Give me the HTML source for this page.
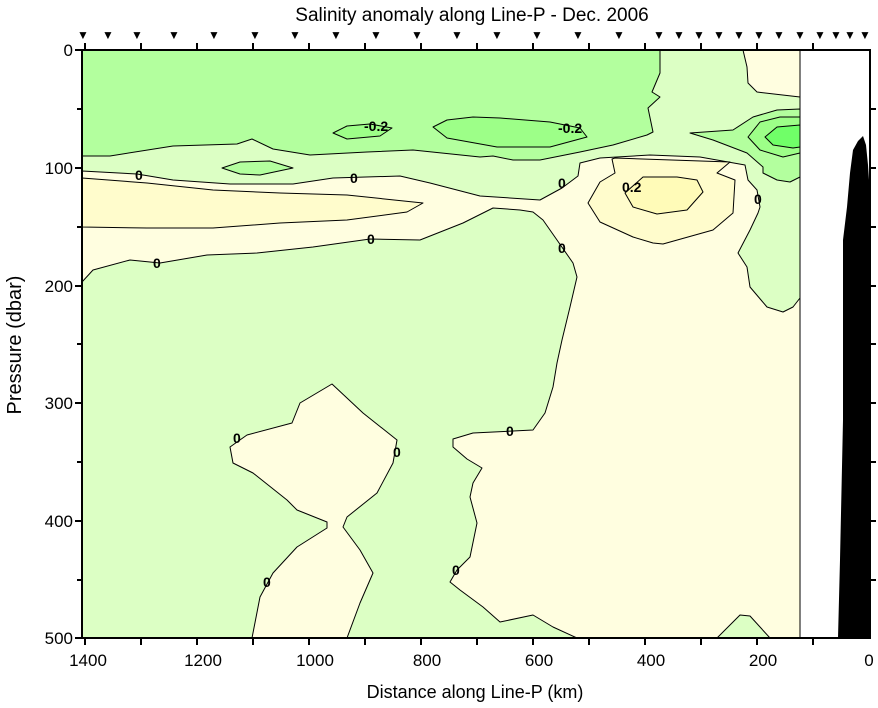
<!DOCTYPE html>
<html><head><meta charset="utf-8"><style>
html,body{margin:0;padding:0;background:#fff;}
svg{display:block;font-family:"Liberation Sans",sans-serif;}
</style></head><body>
<svg width="878" height="708" viewBox="0 0 878 708" xmlns="http://www.w3.org/2000/svg">
<rect width="878" height="708" fill="#fff"/>
<g stroke="#000" stroke-width="1" stroke-linejoin="round">
<rect x="82" y="50" width="718" height="588" fill="#dcffc4" stroke="none"/>
<polygon fill="#b3ff9e" points="82,50 660,50 660,73 652,92 660,97 648,108 653,132 647,135 613,145 580,152 540,160 513,160 493,156 480,157 413,150 367,152 310,155 273,149 252,139 237,144 173,146 110,156 82,156"/>
<polygon fill="#b3ff9e" points="690,133 733,130 753,117 777,110 800,109 800,177 790,182 777,180 763,173 763,167 747,153 713,140"/>
<polygon fill="#b3ff9e" points="222,168 240,162 270,161 293,168 260,175 240,174"/>
<polygon fill="#9dff88" points="333,133 347,126 370,124 392,128 380,136 347,139"/>
<polygon fill="#9dff88" points="433,127 447,120 473,117 500,118 550,122 580,128 587,137 550,147 497,147 447,138"/>
<polygon fill="#9dff88" points="748,137 760,122 780,117 800,117 800,153 783,157 760,150"/>
<polygon fill="#70ff68" points="765,137 777,127 800,125 800,147 793,148 773,145"/>
<polygon fill="#fffee0" points="82,171 137,174 173,180 230,184 293,184 333,178 400,176 430,183 480,196 540,200 562,188 578,176 580,163 600,158 650,155 700,157 745,165 748,180 757,190 760,207 758,213 750,230 738,253 747,267 750,287 767,307 783,312 793,307 800,298 800,638 770,638 750,616 740,615 717,638 577,638 553,627 533,615 500,622 483,607 460,590 450,582 457,570 470,557 477,523 470,497 473,483 482,468 467,459 453,447 453,439 473,433 513,431 533,430 545,413 553,387 557,363 562,340 570,307 577,277 573,263 557,240 543,220 533,212 520,210 493,208 463,223 420,240 370,239 313,247 257,253 207,255 160,263 130,260 93,270 82,282"/>
<polygon fill="#fffee0" points="743,50 747,67 748,83 757,92 800,97 800,50"/>
<polygon fill="#fffee0" points="332,384 300,403 292,423 247,435 230,447 233,463 253,473 287,500 297,510 327,522 327,528 297,547 273,573 260,597 252,638 347,638 360,603 373,573 360,550 343,527 347,517 377,493 393,463 397,440 363,413"/>
<polygon fill="#fffccc" points="82,178 147,183 213,190 280,193 347,195 423,203 407,212 347,220 280,223 213,228 147,228 82,227"/>
<polygon fill="#fffccc" points="612,159 615,158 730,162 717,173 735,180 733,213 713,230 663,244 653,243 633,237 600,222 588,203 600,182 615,173"/>
<polygon fill="#fffbb8" points="625,193 643,177 677,177 697,180 703,192 687,210 657,214 633,207"/>
</g>
<rect x="800" y="50" width="70" height="588" fill="#fff"/>
<line x1="800" y1="50" x2="800" y2="638" stroke="#000"/>
<polygon fill="#000" points="838,638 840,560 843,420 843,280 843,240 847,207 850,173 853,150 858,141 863,136 866,145 868,165 869,180 869,638"/>
<g font-size="14" font-weight="bold" fill="#000">
<text x="364" y="131">-0.2</text><text x="558" y="133">-0.2</text>
<text x="135" y="180">0</text><text x="350" y="183">0</text><text x="558" y="188">0</text>
<text x="622" y="192">0.2</text><text x="754" y="204">0</text><text x="367" y="244">0</text>
<text x="153" y="268">0</text><text x="558" y="253">0</text><text x="233" y="443">0</text>
<text x="393" y="457">0</text><text x="506" y="436">0</text><text x="263" y="587">0</text><text x="452" y="575">0</text>
</g>
<rect x="82" y="50" width="788" height="588" fill="none" stroke="#000" stroke-width="2"/>
<g stroke="#000" stroke-width="2">
<line x1="85" y1="638" x2="85" y2="645"/><line x1="141" y1="638" x2="141" y2="645"/><line x1="197" y1="638" x2="197" y2="645"/><line x1="253" y1="638" x2="253" y2="645"/><line x1="309" y1="638" x2="309" y2="645"/><line x1="365" y1="638" x2="365" y2="645"/><line x1="421" y1="638" x2="421" y2="645"/><line x1="477" y1="638" x2="477" y2="645"/><line x1="533" y1="638" x2="533" y2="645"/><line x1="589" y1="638" x2="589" y2="645"/><line x1="645" y1="638" x2="645" y2="645"/><line x1="701" y1="638" x2="701" y2="645"/><line x1="757" y1="638" x2="757" y2="645"/><line x1="813" y1="638" x2="813" y2="645"/>
<line x1="85" y1="50" x2="85" y2="43"/><line x1="141" y1="50" x2="141" y2="43"/><line x1="197" y1="50" x2="197" y2="43"/><line x1="253" y1="50" x2="253" y2="43"/><line x1="309" y1="50" x2="309" y2="43"/><line x1="365" y1="50" x2="365" y2="43"/><line x1="421" y1="50" x2="421" y2="43"/><line x1="477" y1="50" x2="477" y2="43"/><line x1="533" y1="50" x2="533" y2="43"/><line x1="589" y1="50" x2="589" y2="43"/><line x1="645" y1="50" x2="645" y2="43"/><line x1="701" y1="50" x2="701" y2="43"/><line x1="757" y1="50" x2="757" y2="43"/><line x1="813" y1="50" x2="813" y2="43"/>
<line x1="75" y1="50" x2="82" y2="50"/><line x1="77" y1="109" x2="82" y2="109"/><line x1="75" y1="168" x2="82" y2="168"/><line x1="77" y1="227" x2="82" y2="227"/><line x1="75" y1="286" x2="82" y2="286"/><line x1="77" y1="344" x2="82" y2="344"/><line x1="75" y1="403" x2="82" y2="403"/><line x1="77" y1="462" x2="82" y2="462"/><line x1="75" y1="521" x2="82" y2="521"/><line x1="77" y1="580" x2="82" y2="580"/><line x1="75" y1="638" x2="82" y2="638"/>
<line x1="870" y1="109" x2="876" y2="109"/><line x1="870" y1="168" x2="876" y2="168"/><line x1="870" y1="227" x2="876" y2="227"/><line x1="870" y1="286" x2="876" y2="286"/><line x1="870" y1="344" x2="876" y2="344"/><line x1="870" y1="403" x2="876" y2="403"/><line x1="870" y1="462" x2="876" y2="462"/><line x1="870" y1="521" x2="876" y2="521"/><line x1="870" y1="580" x2="876" y2="580"/>
</g>
<g font-size="17" fill="#000" text-anchor="end">
<text x="73" y="56">0</text><text x="73" y="174">100</text><text x="73" y="292">200</text><text x="73" y="409">300</text><text x="73" y="527">400</text><text x="73" y="644">500</text>
</g>
<g font-size="17" fill="#000" text-anchor="middle">
<text x="88" y="666">1400</text><text x="203" y="666">1200</text><text x="315" y="666">1000</text><text x="427" y="666">800</text><text x="539" y="666">600</text><text x="651" y="666">400</text><text x="763" y="666">200</text><text x="869" y="666">0</text>
<text x="475" y="698" font-size="18">Distance along Line-P (km)</text>
<text x="472" y="21" font-size="19">Salinity anomaly along Line-P - Dec. 2006</text>
<text transform="translate(21,345) rotate(-90)" font-size="20">Pressure (dbar)</text>
</g>
<g fill="#000" font-size="12" text-anchor="middle">
<text x="83" y="39">▼</text><text x="108" y="39">▼</text><text x="137" y="39">▼</text><text x="174" y="39">▼</text><text x="214" y="39">▼</text><text x="255" y="39">▼</text><text x="295" y="39">▼</text><text x="336" y="39">▼</text><text x="376" y="39">▼</text><text x="417" y="39">▼</text><text x="457" y="39">▼</text><text x="497" y="39">▼</text><text x="537" y="39">▼</text><text x="578" y="39">▼</text><text x="619" y="39">▼</text><text x="659" y="39">▼</text><text x="679" y="39">▼</text><text x="699" y="39">▼</text><text x="719" y="39">▼</text><text x="739" y="39">▼</text><text x="759" y="39">▼</text><text x="779" y="39">▼</text><text x="800" y="39">▼</text><text x="820" y="39">▼</text><text x="836" y="39">▼</text><text x="850" y="39">▼</text><text x="865" y="39">▼</text>
</g>
</svg>
</body></html>
